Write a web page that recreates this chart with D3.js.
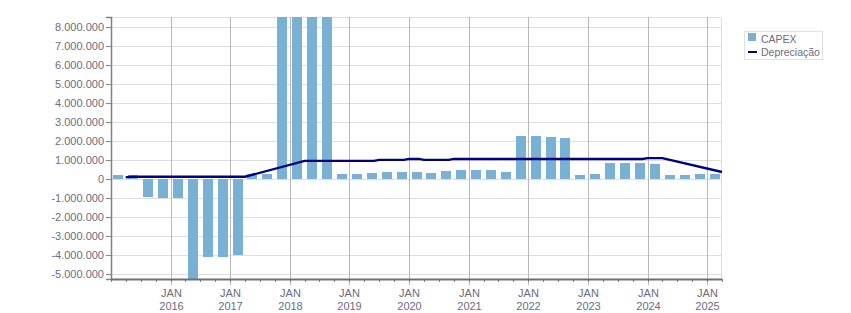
<!DOCTYPE html>
<html>
<head>
<meta charset="utf-8">
<script src="https://cdn.jsdelivr.net/npm/d3@7"></script>
<style>
  body { margin: 0; background: #fff; }
  text { font-family: "Liberation Sans", Arial, sans-serif; }
</style>
</head>
<body>
<div id="wrapper"></div>
<script>
// quarterly CAPEX (bars), one value per quarter start
const quarters = [
    "2015-01", "2015-04", "2015-07", "2015-10",
    "2016-01", "2016-04", "2016-07", "2016-10",
    "2017-01", "2017-04", "2017-07", "2017-10",
    "2018-01", "2018-04", "2018-07", "2018-10",
    "2019-01", "2019-04", "2019-07", "2019-10",
    "2020-01", "2020-04", "2020-07", "2020-10",
    "2021-01", "2021-04", "2021-07", "2021-10",
    "2022-01", "2022-04", "2022-07", "2022-10",
    "2023-01", "2023-04", "2023-07", "2023-10",
    "2024-01", "2024-04", "2024-07", "2024-10",
    "2025-01"
];
const capex = [
    210000, 210000, -950000, -1000000,
    -1000000, -5400000, -4090000, -4090000,
    -4020000, 250000, 250000, 9000000,
    9000000, 9000000, 9000000, 260000,
    260000, 320000, 370000, 370000,
    370000, 320000, 420000, 470000,
    470000, 470000, 370000, 2260000,
    2260000, 2210000, 2160000, 210000,
    260000, 840000, 840000, 840000,
    790000, 210000, 210000, 260000,
    260000
];

// depreciation line, points where the line bends
const depDates = [
    "2015-04", "2015-05", "2017-04", "2018-04", "2019-06", "2019-07",
    "2019-12", "2020-01", "2020-03", "2020-04", "2020-09", "2020-10",
    "2023-12", "2024-01", "2024-04", "2025-04"
];
const depreciacao = [
    90000, 120000, 120000, 960000, 960000, 1010000,
    1010000, 1060000, 1060000, 1010000, 1010000, 1060000,
    1060000, 1100000, 1100000, 370000
];

const yTicks = [-5000000, -4000000, -3000000, -2000000, -1000000, 0,
    1000000, 2000000, 3000000, 4000000, 5000000, 6000000, 7000000, 8000000];
const xTickYears = ["2016", "2017", "2018", "2019", "2020", "2021", "2022", "2023", "2024", "2025"];

const parseMonth = d3.timeParse("%Y-%m");

var dimension = {
    width: 851,
    height: 313,
    margin: { top: 17, left: 111, bottom: 34, right: 129 }
};
dimension.boundedWidth = dimension.width - dimension.margin.left - dimension.margin.right;
dimension.boundedHeight = dimension.height - dimension.margin.top - dimension.margin.bottom;

const textColor = "#6b6b80";
const barColor = "#79b1d4";
const lineColor = "#000080";

const locale = d3.formatLocale({ decimal: ",", thousands: ".", grouping: [3], currency: ["", ""], minus: "-" });
const fmt = locale.format(",.0f");

const svg = d3.select("#wrapper").append("svg")
    .attr("width", dimension.width)
    .attr("height", dimension.height);

const bounded = svg.append("g")
    .attr("transform", `translate(${dimension.margin.left}, ${dimension.margin.top})`);

const xScaler = d3.scaleTime()
    .domain([parseMonth("2015-01"), parseMonth("2025-04")])
    .range([0, dimension.boundedWidth]);

const yScaler = d3.scaleLinear()
    .domain([-5260000, 8530000])
    .range([dimension.boundedHeight, 0]);

svg.append("defs").append("clipPath").attr("id", "plotclip")
    .append("rect")
    .attr("width", dimension.boundedWidth)
    .attr("height", dimension.boundedHeight);

// horizontal grid
bounded.append("g")
    .selectAll("line")
    .data(yTicks)
    .join("line")
    .attr("x1", 0)
    .attr("x2", dimension.boundedWidth)
    .attr("y1", d => Math.round(yScaler(d)) + 0.5)
    .attr("y2", d => Math.round(yScaler(d)) + 0.5)
    .attr("stroke", "#dedede");

// top / right frame
bounded.append("path")
    .attr("d", `M0,0.5H${dimension.boundedWidth - 0.5}V${dimension.boundedHeight}`)
    .attr("fill", "none")
    .attr("stroke", "#dedede");

// vertical year grid
const yearDates = xTickYears.map(y => parseMonth(y + "-01"));
bounded.append("g")
    .selectAll("line")
    .data(yearDates)
    .join("line")
    .attr("x1", d => Math.round(xScaler(d)) + 0.5)
    .attr("x2", d => Math.round(xScaler(d)) + 0.5)
    .attr("y1", 0)
    .attr("y2", dimension.boundedHeight + 6)
    .attr("stroke", "#b8b8b8");

// bars
const barData = quarters.map((q, i) => ({ date: parseMonth(q), value: capex[i] }));
const barWidth = 10;
bounded.append("g")
    .attr("clip-path", "url(#plotclip)")
    .selectAll("rect")
    .data(barData)
    .join("rect")
    .attr("x", d => {
        const start = xScaler(d.date);
        const end = xScaler(d3.timeMonth.offset(d.date, 3));
        return Math.round((start + end) / 2 - barWidth / 2);
    })
    .attr("width", barWidth)
    .attr("y", d => Math.round(yScaler(Math.max(0, d.value))))
    .attr("height", d => Math.round(Math.abs(yScaler(d.value) - yScaler(0))))
    .attr("fill", barColor);

// depreciation line
const lineData = depDates.map((m, i) => ({ date: parseMonth(m), value: depreciacao[i] }));
const lineGenerator = d3.line()
    .x(d => xScaler(d.date))
    .y(d => yScaler(d.value));

bounded.append("path")
    .attr("d", lineGenerator(lineData))
    .attr("fill", "none")
    .attr("stroke", lineColor)
    .attr("stroke-width", 2.4);

// y axis
const yAxis = d3.axisLeft(yScaler)
    .tickValues(yTicks)
    .tickSize(5)
    .tickPadding(2)
    .tickFormat(fmt);

const yAxisG = bounded.append("g").call(yAxis);
yAxisG.select(".domain").attr("stroke", "#808080").attr("stroke-width", 1.5);
yAxisG.selectAll(".tick line").attr("stroke", "#808080");
yAxisG.selectAll(".tick text")
    .attr("fill", textColor)
    .style("font-size", "11px")
    .style("font-family", "Liberation Sans");

// x axis: quarter ticks + baseline
const quarterDates = quarters.map(parseMonth).concat([parseMonth("2025-04")]);
bounded.append("g")
    .selectAll("line")
    .data(quarterDates)
    .join("line")
    .attr("x1", d => Math.round(xScaler(d)) + 0.5)
    .attr("x2", d => Math.round(xScaler(d)) + 0.5)
    .attr("y1", dimension.boundedHeight)
    .attr("y2", dimension.boundedHeight + 3)
    .attr("stroke", "#808080");

bounded.append("line")
    .attr("x1", 0)
    .attr("x2", dimension.boundedWidth)
    .attr("y1", dimension.boundedHeight + 0.5)
    .attr("y2", dimension.boundedHeight + 0.5)
    .attr("stroke", "#707070")
    .attr("stroke-width", 2);

const xLabels = bounded.append("g")
    .selectAll("text")
    .data(xTickYears)
    .join("text")
    .attr("text-anchor", "middle")
    .attr("fill", textColor)
    .style("font-size", "11px")
    .attr("transform", d => `translate(${Math.round(xScaler(parseMonth(d + "-01"))) + 0.5}, 0)`);

xLabels.append("tspan")
    .attr("x", 0)
    .attr("y", dimension.boundedHeight + 18)
    .text("JAN");
xLabels.append("tspan")
    .attr("x", 0)
    .attr("y", dimension.boundedHeight + 31)
    .text(d => d);

// legend
const legend = svg.append("g").attr("transform", "translate(744, 31)");
legend.append("rect")
    .attr("x", 0.5)
    .attr("y", 0.5)
    .attr("width", 78)
    .attr("height", 28)
    .attr("fill", "#fff")
    .attr("stroke", "#e0e0e0");
legend.append("rect")
    .attr("x", 4)
    .attr("y", 2)
    .attr("width", 8)
    .attr("height", 8)
    .attr("fill", barColor);
legend.append("text")
    .attr("x", 17)
    .attr("y", 12)
    .attr("fill", textColor)
    .style("font-size", "10.5px")
    .text("CAPEX");
legend.append("line")
    .attr("x1", 4)
    .attr("x2", 13)
    .attr("y1", 21)
    .attr("y2", 21)
    .attr("stroke", lineColor)
    .attr("stroke-width", 2);
legend.append("text")
    .attr("x", 17)
    .attr("y", 24.5)
    .attr("fill", textColor)
    .style("font-size", "10.5px")
    .text("Depreciação");
</script>
</body>
</html>
